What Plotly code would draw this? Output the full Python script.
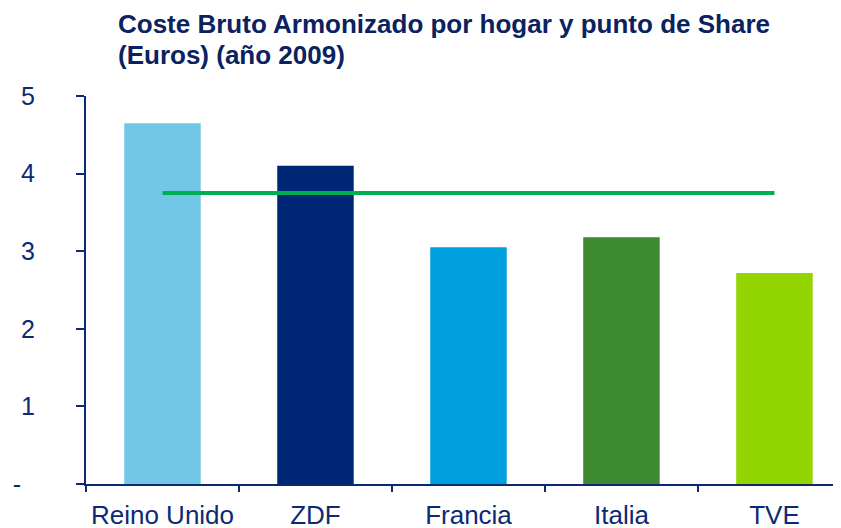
import plotly.graph_objects as go

categories = ["Reino Unido", "ZDF", "Francia", "Italia", "TVE"]
coste = [4.65, 4.10, 3.05, 3.18, 2.72]
media = [3.75, 3.75, 3.75, 3.75, 3.75]
bar_colors = ["#72C6E6", "#002776", "#00A0E0", "#3E8A30", "#93D500"]
y_tickvals = [0, 1, 2, 3, 4, 5]
y_ticktext = ["-\u00a0\u00a0", "1", "2", "3", "4", "5"]
title_lines = ["Coste Bruto Armonizado por hogar y punto de Share", "(Euros) (año 2009)"]

navy = "#0B2A73"
title_color = "#0A2260"

# page body has an 8px margin; compensate in the layout margins
fig = go.Figure()
fig.add_trace(go.Bar(x=categories, y=coste, marker=dict(color=bar_colors, line=dict(width=0)),
                     width=0.5, showlegend=False))
fig.add_trace(go.Scatter(x=categories, y=media, mode="lines",
                         line=dict(color="#00B050", width=4), showlegend=False))

fig.add_annotation(text="<b>" + title_lines[0] + "</b>", xref="paper", yref="paper",
                   x=0.0397, y=1.1856, xanchor="left", yanchor="middle", showarrow=False,
                   font=dict(size=26, color=title_color))
fig.add_annotation(text="<b>" + title_lines[1] + "</b>", xref="paper", yref="paper",
                   x=0.0397, y=1.1057, xanchor="left", yanchor="middle", showarrow=False,
                   font=dict(size=26, color=title_color))

fig.update_layout(
    width=841, height=528,
    margin=dict(l=78, r=8, t=88, b=52),
    paper_bgcolor="white", plot_bgcolor="white",
    font=dict(family="Liberation Sans, Arial, sans-serif", color=navy),
    xaxis=dict(range=[-0.5, 4.435], showline=True, linecolor=navy, linewidth=2,
               ticks="outside", tickson="boundaries", ticklen=6, tickwidth=2, tickcolor=navy,
               tickfont=dict(size=26, color=navy), showgrid=False, zeroline=False,
               ticklabelstandoff=7, automargin=False, tickangle=0),
    yaxis=dict(range=[0, 5], tickvals=y_tickvals, ticktext=y_ticktext, showline=True,
               linecolor=navy, linewidth=2, ticks="outside", ticklen=8, tickwidth=2,
               tickcolor=navy, tickfont=dict(size=25, color=navy), showgrid=False,
               zeroline=False, ticklabelstandoff=36, automargin=False),
)

fig.write_html("out.html")
